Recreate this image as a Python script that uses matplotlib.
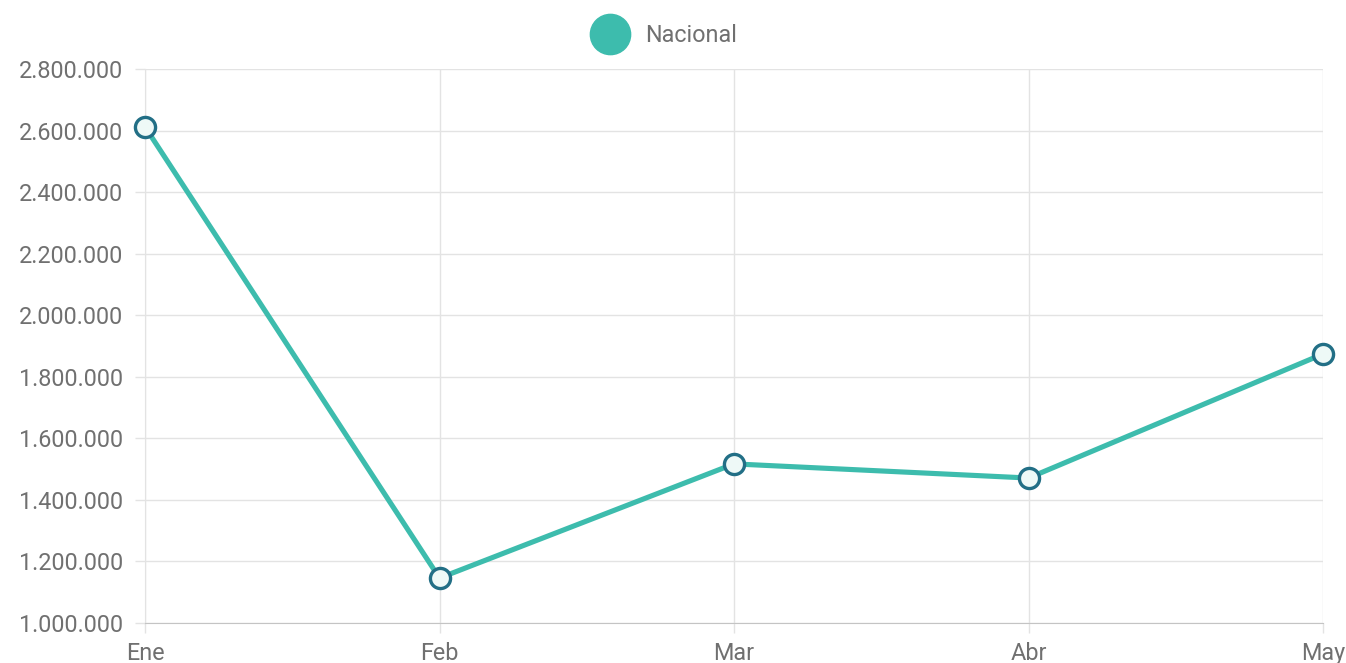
import matplotlib.pyplot as plt
from matplotlib.lines import Line2D
from matplotlib.ticker import FuncFormatter, MultipleLocator

months = ['Ene', 'Feb', 'Mar', 'Abr', 'May']
nacional = [2612000, 1146000, 1517000, 1471000, 1874000]

line_color = '#3dbcad'
edge_color = '#226f86'
grid_color = '#e3e3e3'
text_color = '#707070'

plt.rcParams['font.family'] = ['Roboto', 'DejaVu Sans']

fig = plt.figure(figsize=(13.46, 6.63), dpi=100)
ax = fig.add_axes([145 / 1346, 1 - 623 / 663, (1323 - 145) / 1346, (623 - 69) / 663])

x = list(range(len(months)))
ax.plot(x, nacional, color=line_color, linewidth=3.7, marker='o', markersize=14.5,
        markerfacecolor='#eef9f7', markeredgecolor=edge_color, markeredgewidth=2.4,
        zorder=3, clip_on=False)

ax.set_xlim(0, len(months) - 1)
ax.set_ylim(1000000, 2800000)
ax.yaxis.set_major_locator(MultipleLocator(200000))
ax.yaxis.set_major_formatter(FuncFormatter(lambda v, p: f'{int(v):,}'.replace(',', '.')))
ax.set_xticks(x)
ax.set_xticklabels(months)

ax.grid(True, color=grid_color, linewidth=1)
ax.set_axisbelow(True)
for s in ['top', 'right']:
    ax.spines[s].set_visible(False)
ax.spines['left'].set_color(grid_color)
ax.spines['bottom'].set_color('#c4c4c4')
ax.tick_params(axis='both', colors=grid_color, labelcolor=text_color, labelsize=16.8,
               length=7.5, width=1)
ax.tick_params(axis='y', pad=8)
ax.tick_params(axis='x', pad=6)

handle = Line2D([], [], linestyle='none', marker='o', markersize=29,
                markerfacecolor=line_color, markeredgecolor=line_color)
fig.legend([handle], ['Nacional'], loc='center', bbox_to_anchor=(0.494, 1 - 36 / 663),
           frameon=False, fontsize=16.8, labelcolor=text_color, handletextpad=0.73,
           handlelength=1.5)

fig.savefig('out.png', dpi=100)
